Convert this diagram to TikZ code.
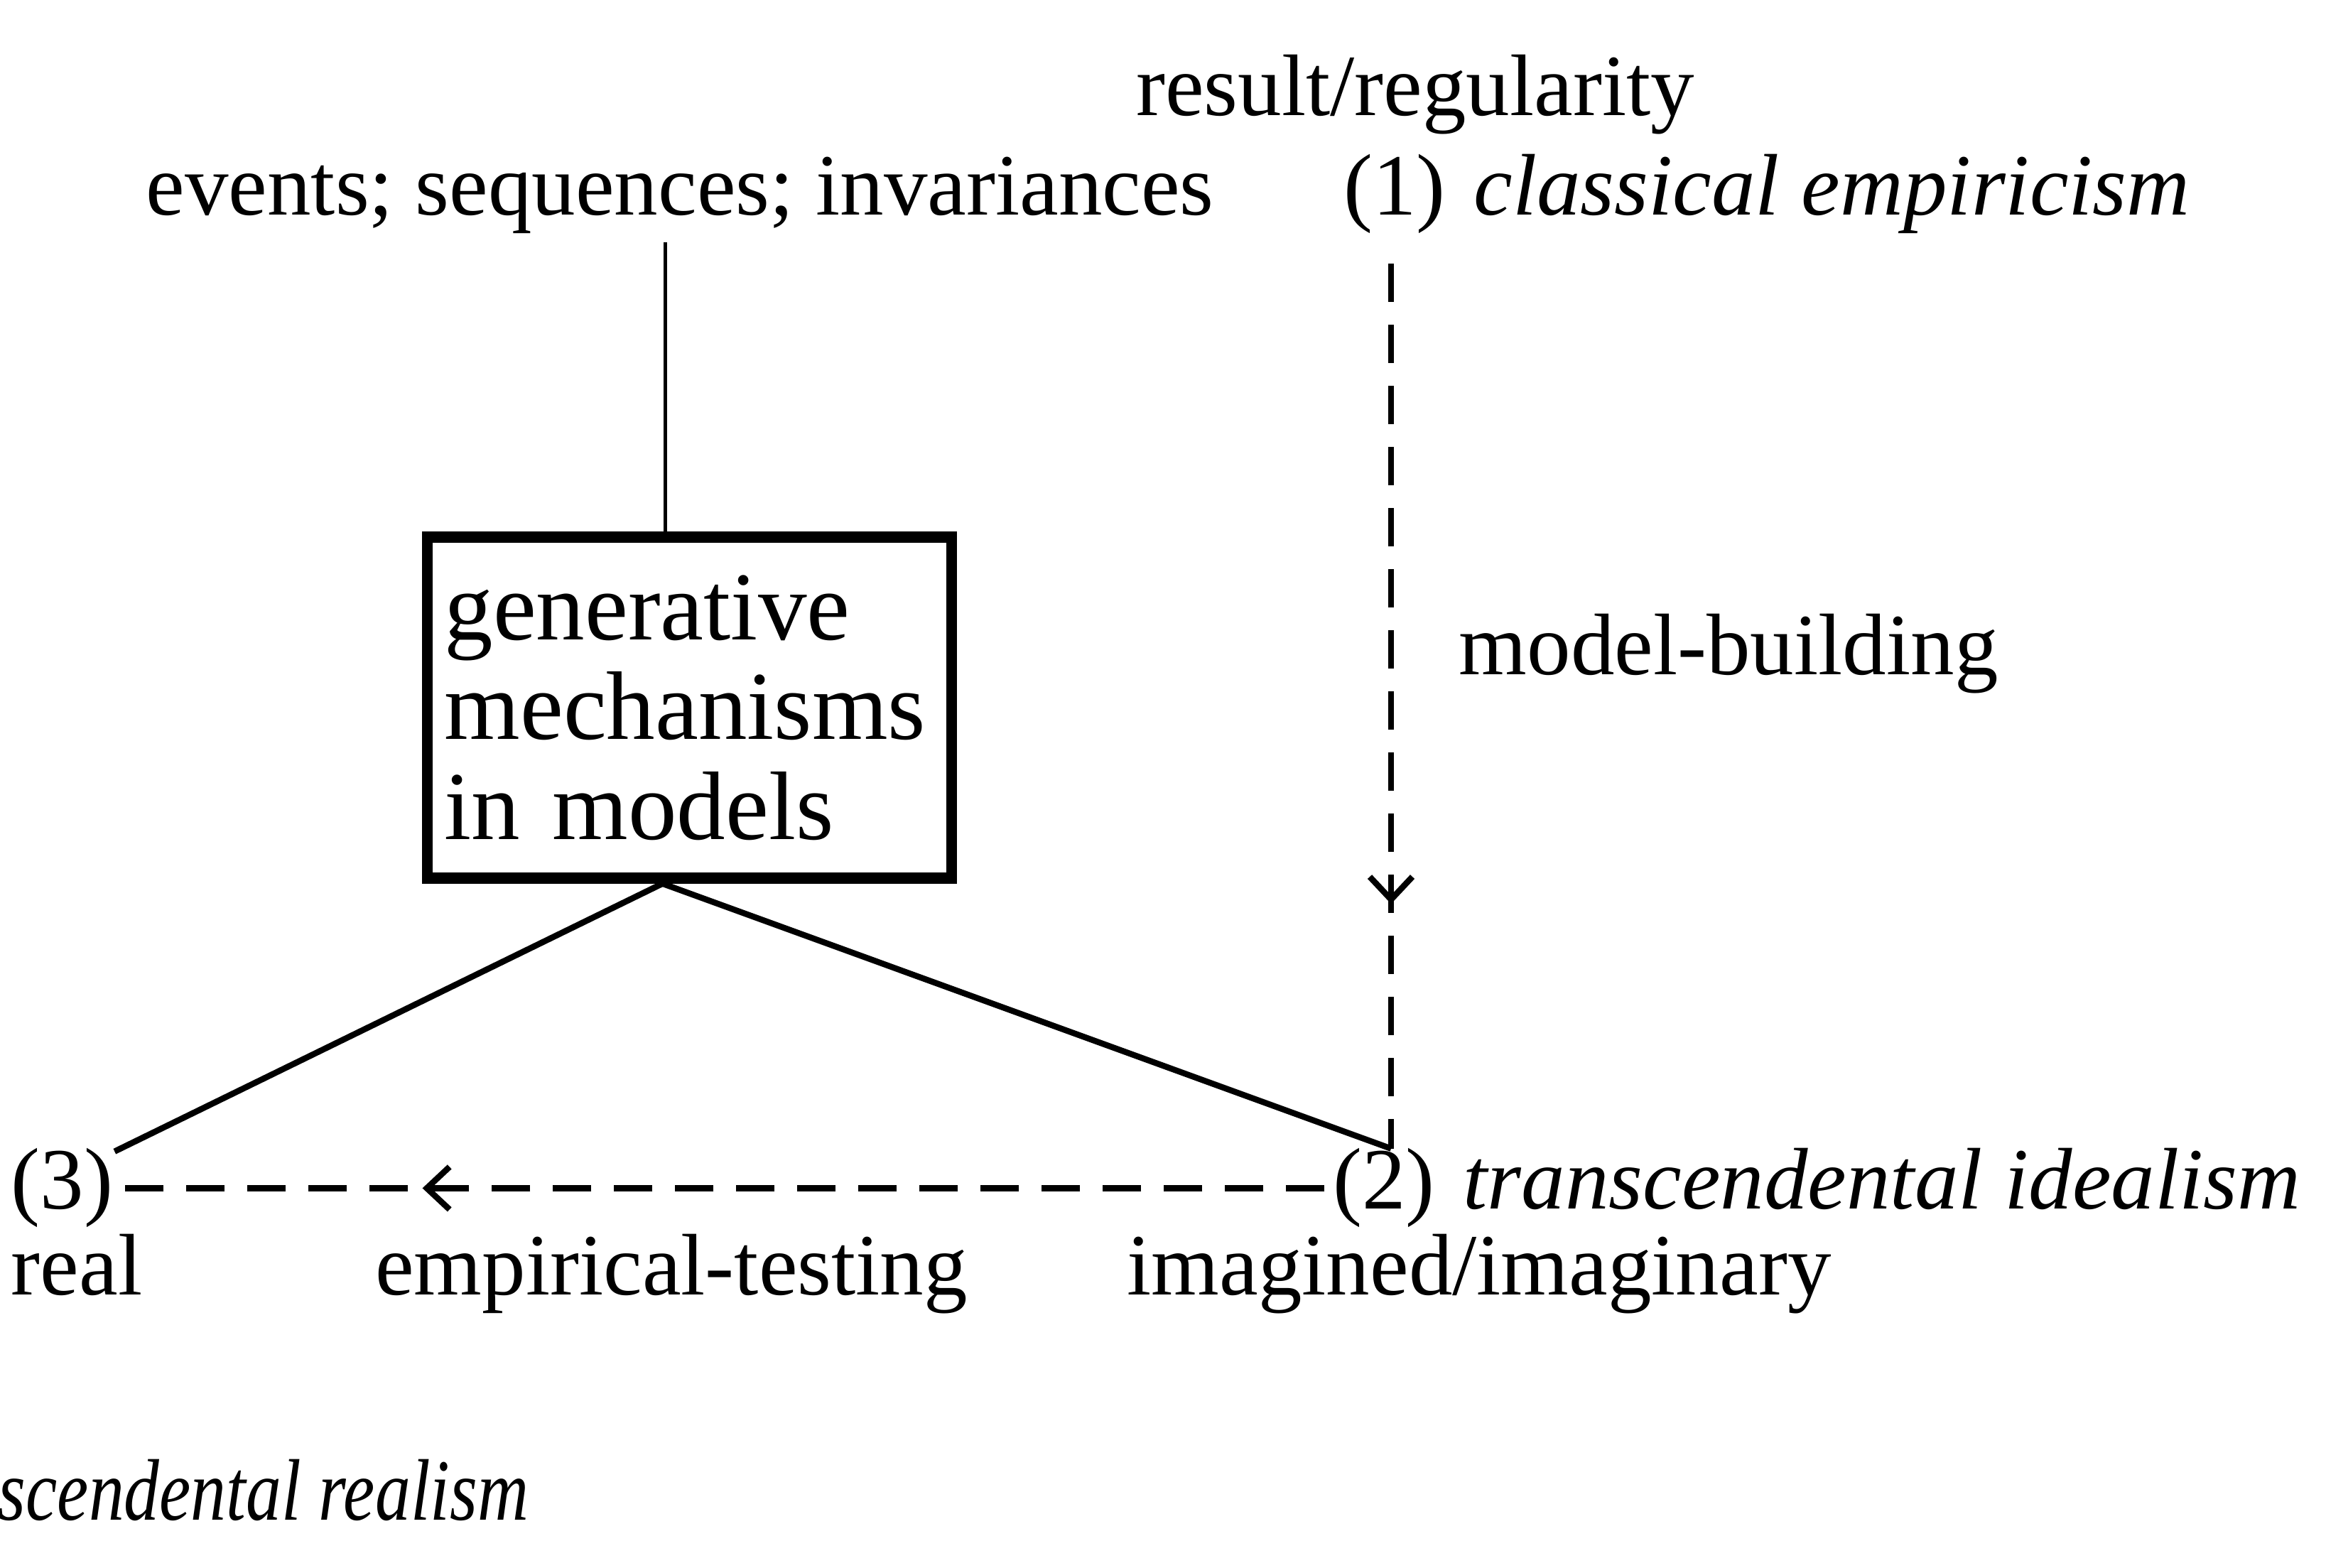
\documentclass[tikz,border=0pt]{standalone}
\usepackage{graphicx}
\usepackage{fontspec}
\setmainfont{Liberation Serif}
\usetikzlibrary{positioning, arrows.meta, calc, decorations.markings}
\tikzset{
  every node/.style={font=\fontsize{17.5}{21}\selectfont},
  lbl/.style={inner sep=1.5pt},
  mechbox/.style={
    rectangle, draw, line width=2.2pt, text width=3.45cm, align=left,
    inner xsep=0.12cm, minimum height=2.4cm,
    font=\fontsize{19.5}{20}\selectfont
  },
  stemline/.style={line width=0.7pt},
  link/.style={line width=1.2pt},
  testline/.style={line width=1.2pt, dash pattern=on 0.27cm off 0.16cm},
  midarrow/.style={postaction={decorate},
    decoration={markings, mark=at position #1 with
      {\arrow{Straight Barb[length=1.6mm, width=3mm, line width=1.2pt]}}}}
}

\begin{document}
\begin{tikzpicture}
\useasboundingbox (0,0) rectangle (16.37,11.035);

% top row
\node[lbl, anchor=base] (res) at (9.96,10.22) {result/regularity};
\node[lbl, anchor=base] (evt) at (4.785,9.52) {events; sequences; invariances};
\node[lbl, anchor=base] (n1) at (9.815,9.52) {(1)};
\node[lbl, base right=0.08cm of n1] (emp) {\itshape classical empiricism};

% the box
\node[mechbox] (mech) at (4.8525,6.055) {generative\\mechanisms\\in models};
\coordinate (stem) at ($(mech.north)+(-0.17,0)$);
\coordinate (apex) at ($(mech.south)+(-0.19,0)$);

\node[lbl, anchor=base west] (model) at (10.21,6.285) {model-building};

% bottom row
\node[lbl, anchor=base west] (n3) at (0.02,2.525) {(3)};
\node[lbl, anchor=base] (n2) at (9.74,2.525) {(2)};
\node[lbl, base right=0.08cm of n2] (ideal) {\itshape transcendental idealism};
\coordinate (c3) at ($(n3.north east)+(-0.05,-0.08)$);
\coordinate (c2) at ($(n2.north)+(0.05,-0.06)$);

\node[lbl, anchor=base west] (real) at (0.02,1.92) {real};
\node[lbl, anchor=base] (emptest) at (4.725,1.92) {empirical-testing};
\node[lbl, anchor=base] (imag) at (10.41,1.92) {imagined/imaginary};
\node[lbl, anchor=base east] (realism) at (3.78,0.335)
  {\scalebox{0.81}[1]{\itshape transcendental realism}};

% connectors
\draw[stemline] (stem) -- (stem |- evt.south);
\draw[link] (apex) -- (c3);
\draw[link] (apex) -- (c2);
\draw[testline, midarrow=0.73, shorten <=0.15cm] (n1.south -| c2) -- (c2);
\draw[testline, midarrow=0.75] (n2.west) -- (n3.east);
\end{tikzpicture}
\end{document}
